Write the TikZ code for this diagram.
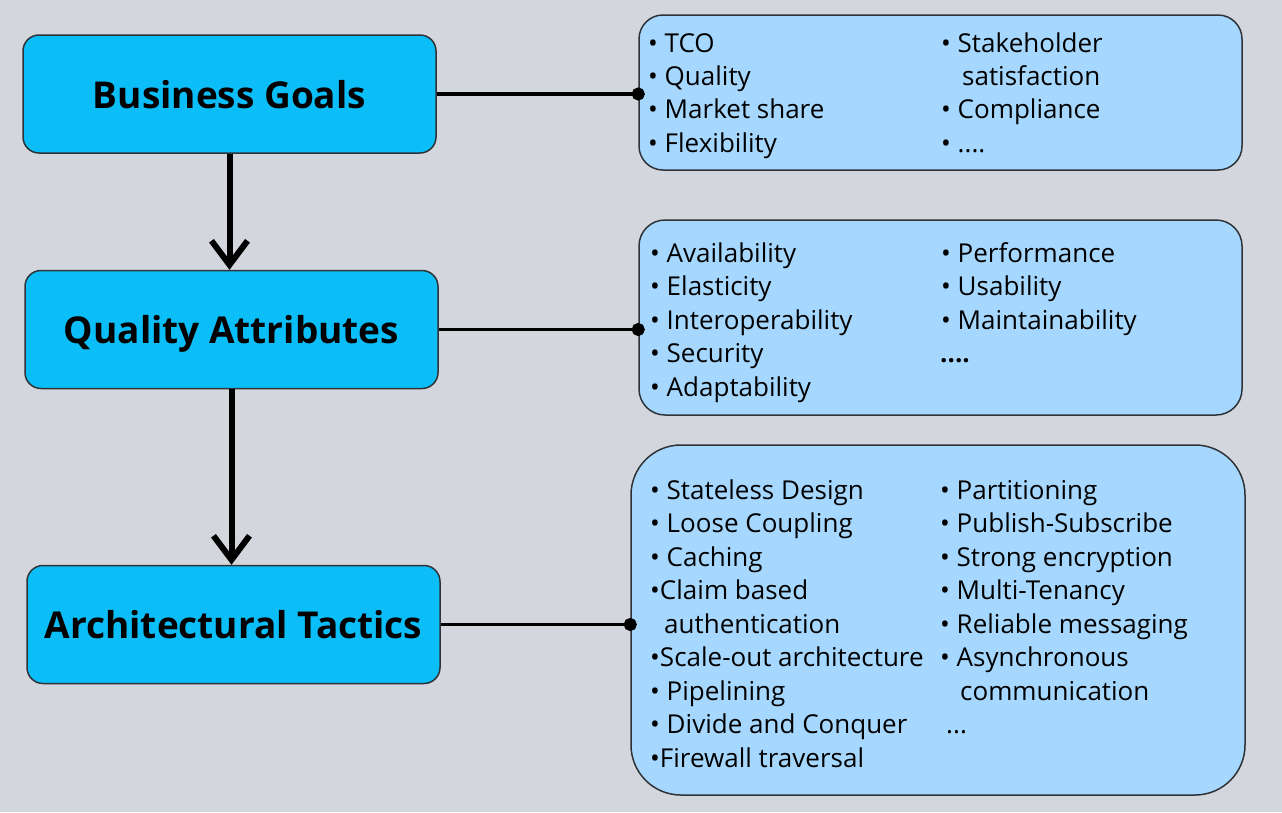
\documentclass[tikz,border=0pt]{standalone}
\usepackage{fontspec}
\setmainfont{Open Sans}
\usetikzlibrary{arrows.meta}
\definecolor{bgc}{HTML}{D3D6DC}
\definecolor{titlefill}{HTML}{0BBEF8}
\definecolor{listfill}{HTML}{A6D8FF}
\definecolor{edgec}{HTML}{2E3338}
\tikzset{
  titlebox/.style={draw=edgec, line width=1.5pt, fill=titlefill, rounded corners=16pt,
    minimum width=413pt, minimum height=118pt, inner sep=0pt,
    text height=32pt, text depth=4pt,
    font=\fontsize{37}{40}\selectfont\bfseries},
  listbox/.style={draw=edgec, line width=1.5pt, fill=listfill, inner sep=0pt},
  item/.style={anchor=base west, inner sep=0pt, font=\fontsize{26}{30}\selectfont},
  conn/.style={line width=3.5pt, -{Circle[length=13pt,width=13pt]}, shorten >=-6.5pt},
  flow/.style={line width=6pt, -{Straight Barb[length=24pt,width=36pt,line width=6pt]}},
}
\begin{document}
\begin{tikzpicture}[x=1pt,y=-1pt]
\fill[bgc] (0,0) rectangle (1282,812);
\useasboundingbox (0,0) rectangle (1282,812);

% left boxes
\node[titlebox] (bg) at (229.5,94) {Business Goals};
\node[titlebox] (qa) at (231.5,329.5) {Quality Attributes};
\node[titlebox] (at) at (233.5,624.5) {Architectural Tactics};

% right boxes
\node[listbox, rounded corners=24pt, minimum width=603pt, minimum height=155pt] (gl) at (940.5,92.5) {};
\node[listbox, rounded corners=26pt, minimum width=603pt, minimum height=195pt] (ql) at (940.5,317.5) {};
\node[listbox, rounded corners=50pt, minimum width=614pt, minimum height=350pt] (tl) at (938,620) {};

% connectors
\draw[conn] (bg.east) -- (bg.east -| gl.west);
\draw[conn] (qa.east) -- (qa.east -| ql.west);
\draw[conn] (at.east) -- (at.east -| tl.west);
\draw[flow] (bg.south) -- (bg.south |- qa.north);
\draw[flow] (qa.south) -- (qa.south |- at.north);

% business goals list
\node[item] (g1) at (648,52) {• TCO};
\node[item] (g2) at (648,85.3) {• Quality};
\node[item] (g3) at (648,118.6) {• Market share};
\node[item] (g4) at (648,152) {• Flexibility};
\node[item] (g5) at (941,52) {• Stakeholder};
\node[item] (g6) at (962,85.3) {satisfaction};
\node[item] (g7) at (941,118.6) {• Compliance};
\node[item] (g8) at (941,152) {• ....};

% quality attributes list
\node[item] (q1) at (650,262) {• Availability};
\node[item] (q2) at (650,295.5) {• Elasticity};
\node[item] (q3) at (650,329) {• Interoperability};
\node[item] (q4) at (650,362.5) {• Security};
\node[item] (q5) at (650,396) {• Adaptability};
\node[item] (q6) at (941,262) {• Performance};
\node[item] (q7) at (941,295.5) {• Usability};
\node[item] (q8) at (941,329) {• Maintainability};
\node[item, font=\fontsize{26}{30}\selectfont\bfseries] (q9) at (940,362.5) {....};

% tactics list
\node[item] (t1) at (650,499) {• Stateless Design};
\node[item] (t2) at (650,532.5) {• Loose Coupling};
\node[item] (t3) at (650,566) {• Caching};
\node[item] (t4) at (650,599.5) {•Claim based};
\node[item] (t5) at (664,633) {authentication};
\node[item] (t6) at (650,666.5) {•Scale-out architecture};
\node[item] (t7) at (650,700) {• Pipelining};
\node[item] (t8) at (650,733.5) {• Divide and Conquer};
\node[item] (t9) at (650,767) {•Firewall traversal};
\node[item] (t10) at (940,499) {• Partitioning};
\node[item] (t11) at (940,532.5) {• Publish-Subscribe};
\node[item] (t12) at (940,566) {• Strong encryption};
\node[item] (t13) at (940,599.5) {• Multi-Tenancy};
\node[item] (t14) at (940,633) {• Reliable messaging};
\node[item] (t15) at (940,666.5) {• Asynchronous};
\node[item] (t16) at (960,700) {communication};
\node[item] (t17) at (946,733.5) {...};
\end{tikzpicture}
\end{document}
